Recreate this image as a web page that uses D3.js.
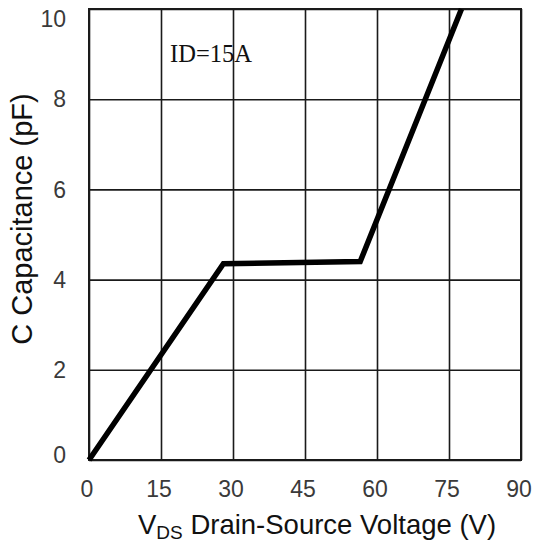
<!DOCTYPE html>
<html>
<head>
<meta charset="utf-8">
<script src="https://cdn.jsdelivr.net/npm/d3@7"></script>
<style>
  html, body { margin: 0; padding: 0; background: #fff; }
  svg { display: block; }
</style>
</head>
<body>
<svg id="chart" width="534" height="547"></svg>
<script>
// Capacitance vs drain-source voltage, ID = 15A
const vdsValues = [0, 28, 56.5, 77.6];
const capValues = [0, 4.35, 4.4, 10];
const xTicks = [0, 15, 30, 45, 60, 75, 90];
const yTicks = [0, 2, 4, 6, 8, 10];

const svg = d3.select("#chart");
const plotLeft = 89, plotRight = 521, plotTop = 9, plotBottom = 460;

const x = d3.scaleLinear().domain([0, 90]).range([plotLeft, plotRight]);
const y = d3.scaleLinear().domain([0, 10]).range([plotBottom, plotTop]);

// vertical grid lines
const gx = svg.append("g")
  .attr("transform", `translate(0,${plotBottom})`)
  .call(d3.axisBottom(x).tickValues(xTicks).tickSize(-(plotBottom - plotTop)).tickFormat(""));
gx.select(".domain").remove();
gx.selectAll("line").attr("stroke", "#1a1a1a").attr("stroke-width", 1.6);

// horizontal grid lines
const gy = svg.append("g")
  .attr("transform", `translate(${plotLeft},0)`)
  .call(d3.axisLeft(y).tickValues(yTicks).tickSize(-(plotRight - plotLeft)).tickFormat(""));
gy.select(".domain").remove();
gy.selectAll("line").attr("stroke", "#1a1a1a").attr("stroke-width", 1.6);

// plot frame
svg.append("rect")
  .attr("x", plotLeft).attr("y", plotTop)
  .attr("width", plotRight - plotLeft).attr("height", plotBottom - plotTop)
  .attr("fill", "none").attr("stroke", "#1a1a1a").attr("stroke-width", 2);

// tick labels
svg.append("g").selectAll("text").data(xTicks).join("text")
  .attr("x", d => x(d) - 2)
  .attr("y", 497)
  .attr("text-anchor", "middle")
  .attr("font-family", "Liberation Sans, Arial, sans-serif")
  .attr("font-size", 23)
  .attr("fill", "#3a3a3a")
  .text(d => d);

svg.append("g").selectAll("text").data(yTicks).join("text")
  .attr("x", 66)
  .attr("y", d => Math.min(Math.max(y(d), 19), 455))
  .attr("dy", "0.36em")
  .attr("text-anchor", "end")
  .attr("font-family", "Liberation Sans, Arial, sans-serif")
  .attr("font-size", 23)
  .attr("fill", "#3a3a3a")
  .text(d => d);

// capacitance curve
const line = d3.line().x((d, i) => x(vdsValues[i])).y(d => y(d));
svg.append("path")
  .datum(capValues)
  .attr("d", line)
  .attr("fill", "none")
  .attr("stroke", "#000")
  .attr("stroke-width", 5.5)
  .attr("stroke-linejoin", "miter");

// condition note
svg.append("text")
  .attr("x", 170).attr("y", 62)
  .attr("font-family", "Liberation Serif, Times New Roman, serif")
  .attr("font-size", 25)
  .attr("textLength", 82)
  .attr("lengthAdjust", "spacingAndGlyphs")
  .attr("fill", "#111")
  .text("ID=15A");

// x axis title with subscript
const xt = svg.append("text")
  .attr("x", 138).attr("y", 534)
  .attr("font-family", "Liberation Sans, Arial, sans-serif")
  .attr("font-size", 27.5)
  .attr("fill", "#111");
xt.append("tspan").text("V");
xt.append("tspan").attr("font-size", 19).attr("dy", 5).text("DS");
xt.append("tspan").attr("dy", -5).text(" Drain-Source Voltage (V)");

// y axis title
svg.append("text")
  .attr("transform", "translate(32,219) rotate(-90)")
  .attr("text-anchor", "middle")
  .attr("font-family", "Liberation Sans, Arial, sans-serif")
  .attr("font-size", 29)
  .attr("fill", "#111")
  .text("C Capacitance (pF)");
</script>
</body>
</html>
